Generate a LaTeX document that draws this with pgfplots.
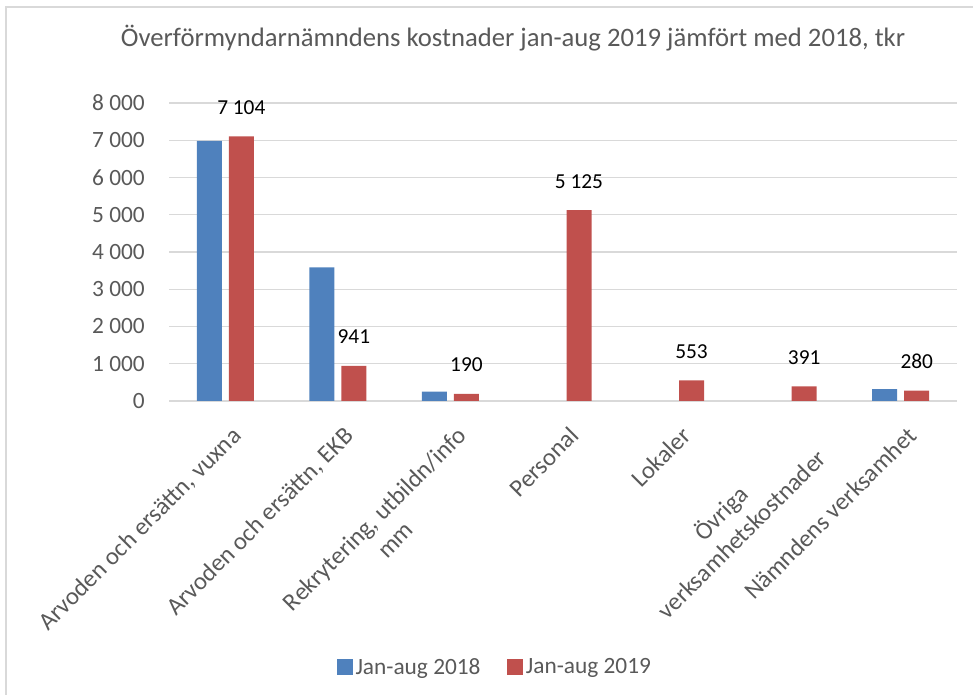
\documentclass[border=0pt]{standalone}
\usepackage{pgfplots}
\pgfplotsset{compat=1.18}
\usepackage{fontspec}
\setmainfont{Carlito}
\definecolor{blueA}{HTML}{4F81BD}
\definecolor{redB}{HTML}{C0504D}
\definecolor{txt}{HTML}{595959}
\definecolor{gridc}{HTML}{D9D9D9}
\begin{document}
\begin{tikzpicture}
\path[use as bounding box] (0,0) rectangle (729.75pt,521.25pt);
\draw[gridc, line width=1.5pt] (4.5pt,0pt) -- (4.5pt,516pt) -- (729.75pt,516pt);
\node[txt, font=\fontsize{20}{24}\selectfont] at (384.75pt,492.75pt) {Överförmyndarnämndens kostnader jan-aug 2019 jämfört med 2018, tkr};
\begin{axis}[
  at={(126.75pt,220.5pt)}, anchor=south west,
  scale only axis, width=591pt, height=223.5pt,
  ymin=0, ymax=8000, ytick={0,1000,...,8000},
  xmin=-0.5, xmax=6.5, xtick={0,...,6},
  xticklabels={{Arvoden och ersättn, vuxna},{Arvoden och ersättn, EKB},{Rekrytering, utbildn/info\\mm},Personal,Lokaler,{Övriga\\verksamhetskostnader},{Nämndens verksamhet}},
  axis line style={draw=none},
  major tick length=0pt,
  ymajorgrids, grid style={gridc, line width=0.9pt},
  ybar=5.25pt, bar width=18.75pt,
  yticklabel style={txt, font=\fontsize{17.5}{20}\selectfont, anchor=east, inner sep=0pt, xshift=-18pt},
  xticklabel style={xshift=3.75pt, yshift=-18pt, rotate=45, anchor=north east, inner sep=0pt, align=center, txt, font=\fontsize{18.5}{22}\selectfont},
  legend style={at={(0.414,-0.893)}, anchor=center, draw=none, fill=none, legend columns=2, font=\fontsize{17.5}{20}\selectfont, text=txt,
    /tikz/every even column/.append style={column sep=18pt}},
  legend image code/.code={\fill[#1] (0pt,-6pt) rectangle (12pt,6pt);},
  /pgf/number format/1000 sep={\ },
  /pgf/number format/assume math mode=true,
]
\addplot[fill=blueA, draw=none] coordinates {(0,6980) (1,3590) (2,250) (6,320)};
\addlegendentry{Jan-aug 2018}
\addplot[fill=redB, draw=none, nodes near coords,
  every node near coord/.append style={black, font=\fontsize{16}{19}\selectfont, anchor=base, inner sep=0pt, yshift=16.5pt}]
  coordinates {(0,7104) (1,941) (2,190) (3,5125) (4,553) (5,391) (6,280)};
\addlegendentry{Jan-aug 2019}
\end{axis}
\end{tikzpicture}
\end{document}
